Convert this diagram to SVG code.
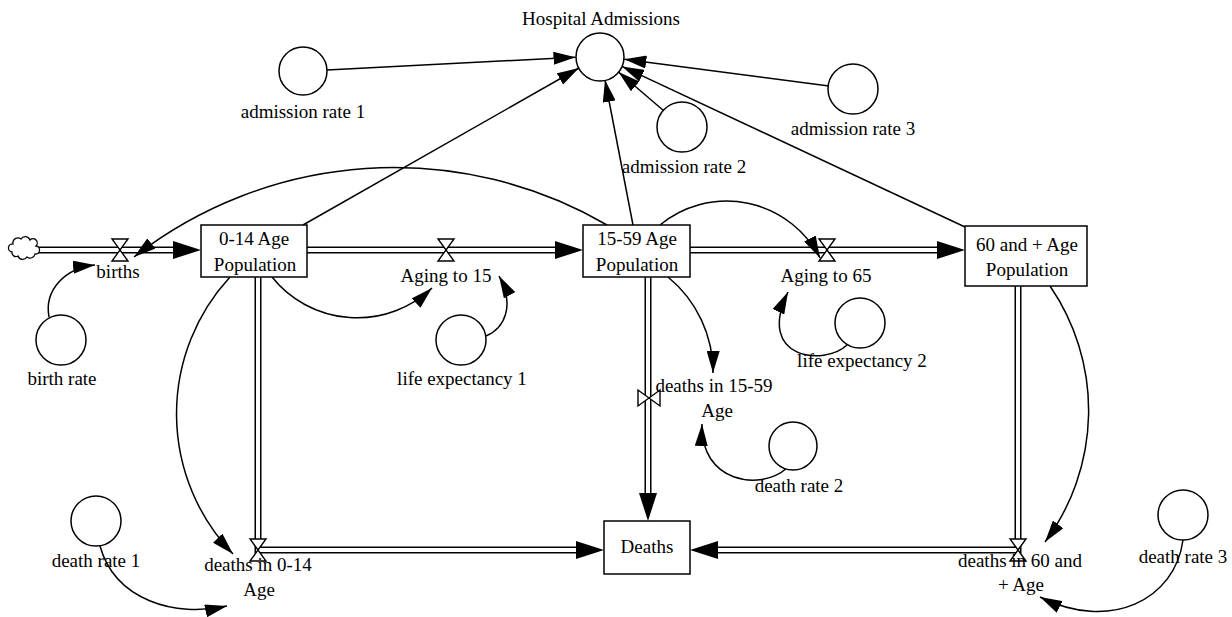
<svg xmlns="http://www.w3.org/2000/svg" width="1232" height="617" viewBox="0 0 1232 617">
  <defs>
    <style>
      .stock { fill: #fff; stroke: #000; stroke-width: 1.5; }
      .aux { fill: #fff; stroke: #000; stroke-width: 1.5; }
      .pipe { fill: none; stroke: #000; stroke-width: 7; stroke-linejoin: miter; }
      .pipe-in { fill: none; stroke: #fff; stroke-width: 4; stroke-linejoin: miter; }
      .link { fill: none; stroke: #000; stroke-width: 1.5; }
      .valve { fill: #fff; stroke: #000; stroke-width: 1.4; stroke-linejoin: miter; }
      .cloud { fill: #fff; stroke: #000; stroke-width: 1.3; }
      text { font-family: "Liberation Serif", "Times New Roman", serif; font-size: 19px; fill: #000; text-anchor: middle; }
    </style>
    <!-- flow arrowhead: tip sits 12px past the end of the pipe path -->
    <marker id="pipeHead" viewBox="0 0 28 18" refX="16" refY="9" markerWidth="28" markerHeight="18" markerUnits="userSpaceOnUse" orient="auto">
      <path d="M0,0 L28,9 L0,18 Z" fill="#000"/>
    </marker>
    <!-- information link arrowhead -->
    <marker id="linkHead" viewBox="0 0 22 13" refX="22" refY="6.5" markerWidth="22" markerHeight="13" markerUnits="userSpaceOnUse" orient="auto">
      <path d="M0,0 L22,6.5 L0,13 Z" fill="#000"/>
    </marker>
    <!-- hourglass valve for horizontal pipes -->
    <path id="valve" class="valve" d="M-8,-11 H8 L-8,11 H8 Z"/>
  </defs>

  <rect width="1232" height="617" fill="#fff"/>

  <g id="connectors">
    <!-- material flows (double-line pipes) -->
    <path class="pipe" d="M36 250 H189" marker-end="url(#pipeHead)"/>
    <path class="pipe-in" d="M36 250 H173"/>
    <path class="pipe" d="M307 250 H571" marker-end="url(#pipeHead)"/>
    <path class="pipe-in" d="M307 250 H555"/>
    <path class="pipe" d="M690 250 H953" marker-end="url(#pipeHead)"/>
    <path class="pipe-in" d="M690 250 H937"/>
    <path class="pipe" d="M258 277 V550 H592" marker-end="url(#pipeHead)"/>
    <path class="pipe-in" d="M258 277 V550 H576"/>
    <path class="pipe" d="M648 277 V509" marker-end="url(#pipeHead)"/>
    <path class="pipe-in" d="M648 277 V493"/>
    <path class="pipe" d="M1018 286 V550 H702" marker-end="url(#pipeHead)"/>
    <path class="pipe-in" d="M1018 286 V550 H718"/>

    <!-- information links -->
    <path class="link" d="M327 70 L575.5 57.2" marker-end="url(#linkHead)"/>
    <path class="link" d="M303 225 L579 68" marker-end="url(#linkHead)"/>
    <path class="link" d="M633 225 L605 80" marker-end="url(#linkHead)"/>
    <path class="link" d="M664 111 L618.5 72" marker-end="url(#linkHead)"/>
    <path class="link" d="M829 86 L624.3 59.2" marker-end="url(#linkHead)"/>
    <path class="link" d="M965 227 L622 66.4" marker-end="url(#linkHead)"/>
    <path class="link" d="M607 225 A423 423 0 0 0 134 257" marker-end="url(#linkHead)"/>
    <path class="link" d="M660 225 A105 105 0 0 1 820 258" marker-end="url(#linkHead)"/>
    <path class="link" d="M272 277 A109 109 0 0 0 432 288" marker-end="url(#linkHead)"/>
    <path class="link" d="M486 336 C505 328 515 305 499 276" marker-end="url(#linkHead)"/>
    <path class="link" d="M847 345 C825 366 755 360 788 292" marker-end="url(#linkHead)"/>
    <path class="link" d="M49 317 C44 290 65 268 95 265" marker-end="url(#linkHead)"/>
    <path class="link" d="M230 277 A202 202 0 0 0 233 554" marker-end="url(#linkHead)"/>
    <path class="link" d="M100 546 C115 600 175 618 227 606" marker-end="url(#linkHead)"/>
    <path class="link" d="M668 277 A123 123 0 0 1 713 373" marker-end="url(#linkHead)"/>
    <path class="link" d="M787 468 C760 492 700 482 702 424" marker-end="url(#linkHead)"/>
    <path class="link" d="M1050 286 A220 220 0 0 1 1045 542" marker-end="url(#linkHead)"/>
    <path class="link" d="M1183 540 C1175 600 1110 632 1040 597" marker-end="url(#linkHead)"/>
  </g>

  <!-- source cloud -->
  <g id="source">
    <path class="cloud" d="M12 252 a4 4 0 0 1 1 -8 a5 5 0 0 1 8 -5 a5 5 0 0 1 9 1 a4 4 0 0 1 6 6 a4 4 0 0 1 -1 8 a5 5 0 0 1 -8 3 a5 5 0 0 1 -9 -1 a4 4 0 0 1 -6 -4 z"/>
  </g>

  <!-- stocks -->
  <g id="pop-0-14">
    <rect class="stock" x="201" y="225" width="106" height="52"/>
    <text x="254" y="245">0-14 Age</text>
    <text x="255" y="271">Population</text>
  </g>
  <g id="pop-15-59">
    <rect class="stock" x="583" y="225" width="107" height="52"/>
    <text x="637" y="245">15-59 Age</text>
    <text x="637" y="271">Population</text>
  </g>
  <g id="pop-60-plus">
    <rect class="stock" x="965" y="226" width="122" height="60"/>
    <text x="1027" y="251">60 and + Age</text>
    <text x="1027" y="276">Population</text>
  </g>
  <g id="deaths">
    <rect class="stock" x="604" y="521" width="86" height="53"/>
    <text x="647" y="553">Deaths</text>
  </g>

  <!-- flows -->
  <g id="births">
    <use href="#valve" x="120" y="250"/>
    <text x="118" y="278">births</text>
  </g>
  <g id="aging-15">
    <use href="#valve" x="446" y="250"/>
    <text x="446" y="282">Aging to 15</text>
  </g>
  <g id="aging-65">
    <use href="#valve" x="827" y="250"/>
    <text x="826" y="282">Aging to 65</text>
  </g>
  <g id="deaths-0-14">
    <use href="#valve" x="258" y="550"/>
    <text x="258" y="571">deaths in 0-14</text>
    <text x="259" y="596">Age</text>
  </g>
  <g id="deaths-15-59">
    <use href="#valve" transform="translate(649 398) rotate(90)"/>
    <text x="714" y="392">deaths in 15-59</text>
    <text x="717" y="417">Age</text>
  </g>
  <g id="deaths-60-plus">
    <use href="#valve" x="1018" y="550"/>
    <text x="1020" y="567">deaths in 60 and</text>
    <text x="1021" y="591">+ Age</text>
  </g>

  <!-- auxiliaries -->
  <g id="hospital-admissions">
    <circle class="aux" cx="600" cy="57" r="24"/>
    <text x="601" y="25">Hospital Admissions</text>
  </g>
  <g id="admission-rate-1">
    <circle class="aux" cx="303" cy="71" r="24"/>
    <text x="303" y="118">admission rate 1</text>
  </g>
  <g id="admission-rate-2">
    <circle class="aux" cx="682" cy="127" r="25"/>
    <text x="684" y="173">admission rate 2</text>
  </g>
  <g id="admission-rate-3">
    <circle class="aux" cx="853" cy="89" r="25"/>
    <text x="853" y="135">admission rate 3</text>
  </g>
  <g id="birth-rate">
    <circle class="aux" cx="61" cy="340" r="25"/>
    <text x="62" y="385">birth rate</text>
  </g>
  <g id="life-expectancy-1">
    <circle class="aux" cx="461" cy="340" r="25"/>
    <text x="462" y="385">life expectancy 1</text>
  </g>
  <g id="life-expectancy-2">
    <circle class="aux" cx="860" cy="323" r="25"/>
    <text x="862" y="367">life expectancy 2</text>
  </g>
  <g id="death-rate-1">
    <circle class="aux" cx="96" cy="521" r="25"/>
    <text x="96" y="567">death rate 1</text>
  </g>
  <g id="death-rate-2">
    <circle class="aux" cx="793" cy="446" r="24"/>
    <text x="799" y="492">death rate 2</text>
  </g>
  <g id="death-rate-3">
    <circle class="aux" cx="1183" cy="515" r="25"/>
    <text x="1183" y="563">death rate 3</text>
  </g>
</svg>
